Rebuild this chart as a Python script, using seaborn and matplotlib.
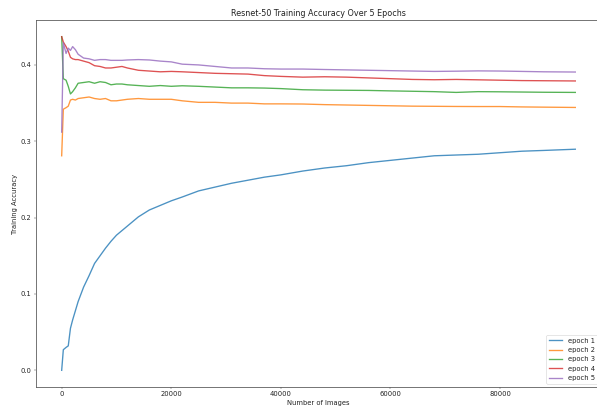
import numpy as np
import pandas as pd
import matplotlib
matplotlib.use("Agg")
import matplotlib.pyplot as plt
import seaborn as sns

# Number of images (x grid, shared by all epochs)
images = [0, 300, 800, 1200, 1600, 2000, 2500, 3000, 4000, 5000, 6000, 7000, 8000,
          9000, 10000, 11000, 12000, 14000, 16000, 18000, 20000, 22000, 25000, 28000,
          31000, 34000, 37000, 40000, 44000, 48000, 52000, 56000, 60000, 64000, 68000,
          72000, 76000, 80000, 84000, 88000, 93750]

epoch1 = [0.0, 0.027, 0.030, 0.032, 0.055, 0.066, 0.078, 0.090, 0.109, 0.124, 0.140,
          0.150, 0.160, 0.169, 0.177, 0.183, 0.189, 0.201, 0.210, 0.216, 0.222, 0.227,
          0.235, 0.240, 0.245, 0.249, 0.253, 0.256, 0.261, 0.265, 0.268, 0.272, 0.275,
          0.278, 0.281, 0.282, 0.283, 0.285, 0.287, 0.288, 0.2896]
epoch2 = [0.281, 0.342, 0.344, 0.346, 0.354, 0.355, 0.354, 0.356, 0.357, 0.358, 0.356,
          0.355, 0.356, 0.353, 0.353, 0.354, 0.355, 0.356, 0.355, 0.355, 0.355, 0.353,
          0.351, 0.351, 0.350, 0.350, 0.349, 0.349, 0.3488, 0.348, 0.3475, 0.347, 0.3465,
          0.346, 0.3458, 0.3456, 0.3455, 0.3455, 0.345, 0.3447, 0.3443]
epoch3 = [0.437, 0.382, 0.380, 0.372, 0.362, 0.365, 0.370, 0.376, 0.377, 0.378, 0.376,
          0.378, 0.377, 0.374, 0.375, 0.375, 0.374, 0.373, 0.372, 0.373, 0.372, 0.3727,
          0.372, 0.371, 0.370, 0.370, 0.3697, 0.369, 0.3675, 0.367, 0.3668, 0.3666, 0.366,
          0.3655, 0.365, 0.364, 0.365, 0.3648, 0.3645, 0.3642, 0.364]
epoch4 = [0.437, 0.430, 0.424, 0.418, 0.410, 0.408, 0.407, 0.407, 0.405, 0.403, 0.399,
          0.398, 0.396, 0.396, 0.397, 0.398, 0.396, 0.393, 0.392, 0.391, 0.3915, 0.391,
          0.390, 0.389, 0.3885, 0.388, 0.386, 0.385, 0.384, 0.3845, 0.384, 0.383, 0.382,
          0.381, 0.3806, 0.381, 0.3805, 0.380, 0.3795, 0.3793, 0.379]
epoch5 = [0.312, 0.429, 0.415, 0.422, 0.419, 0.424, 0.420, 0.414, 0.409, 0.408, 0.406,
          0.407, 0.407, 0.406, 0.406, 0.406, 0.4065, 0.407, 0.4065, 0.405, 0.404, 0.401,
          0.400, 0.398, 0.396, 0.396, 0.395, 0.3946, 0.3946, 0.394, 0.3935, 0.393, 0.3925,
          0.392, 0.3915, 0.3918, 0.3922, 0.392, 0.3915, 0.391, 0.3907]

labels = ["epoch 1", "epoch 2", "epoch 3", "epoch 4", "epoch 5"]
series = [epoch1, epoch2, epoch3, epoch4, epoch5]

df = pd.concat([pd.DataFrame({"images": images, "acc": s, "epoch": lab})
                for lab, s in zip(labels, series)], ignore_index=True)

plt.rcParams["font.size"] = 11
plt.rcParams["axes.titlesize"] = 13
plt.rcParams["axes.edgecolor"] = "#555555"
plt.rcParams["xtick.color"] = "#555555"
plt.rcParams["ytick.color"] = "#555555"
plt.rcParams["xtick.labelcolor"] = "#222222"
plt.rcParams["ytick.labelcolor"] = "#222222"
plt.rcParams["axes.linewidth"] = 1.3

fig = plt.figure(figsize=(597 / 44, 411 / 44), dpi=44)
ax = fig.add_axes([36 / 597, 24 / 411, 565 / 597, 367 / 411])

sns.lineplot(data=df, x="images", y="acc", hue="epoch",
             palette=sns.color_palette("tab10", 5), ax=ax, linewidth=2.2, alpha=0.8)

ax.set_title("Resnet-50 Training Accuracy Over 5 Epochs", color="#222222")
ax.set_xlabel("Number of Images", color="#222222")
ax.set_ylabel("Training Accuracy", color="#222222")
ax.set_xticks([0, 20000, 40000, 60000, 80000])
ax.set_yticks([0.0, 0.1, 0.2, 0.3, 0.4])
leg = ax.legend(loc="lower right")
for t in leg.get_texts():
    t.set_color("#222222")

fig.savefig("out.png", dpi=44)
